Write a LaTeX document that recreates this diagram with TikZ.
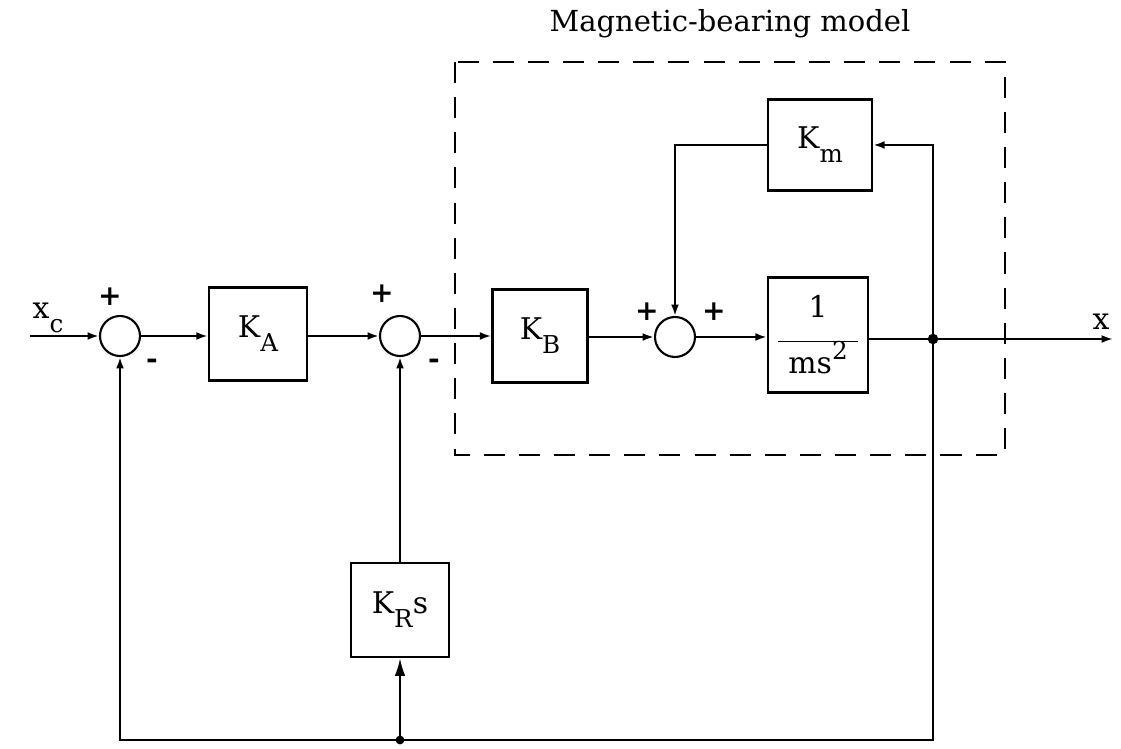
\documentclass[tikz,border=0pt]{standalone}
\usepackage{fontspec}
\setmainfont{DejaVu Serif}
\usepackage{tikz}
\usetikzlibrary{arrows.meta,positioning}

% subscript and superscript letters as the drawing sets them
\newcommand{\lowsub}[1]{\raisebox{-8pt}{\fontsize{14}{16}\selectfont #1}}
\newcommand{\highsup}[1]{\raisebox{8pt}{\fontsize{14}{16}\selectfont #1}}

\begin{document}
\begin{tikzpicture}[
  x=0.02cm, y=-0.02cm, >={Latex[length=6.5pt,width=4.5pt]},
  line width=1.2pt, font=\fontsize{17}{20}\selectfont,
  block/.style={draw, line width=1.4pt, minimum width=1.96cm, minimum height=1.86cm, inner sep=2pt},
  sumnode/.style={draw, circle, line width=1.2pt, minimum size=0.8cm, inner sep=0pt},
  sgn/.style={font=\fontsize{16}{18}\selectfont\bfseries, inner sep=0pt}
]
\useasboundingbox (0,0) rectangle (1121,749);

% forward path
\node[sumnode] (sum1) at (120,336) {};
\node[block] (ka) at (258,334) {K\lowsub{A}};
\node[sumnode] (sum2) at (400,336) {};
\node[block, minimum width=1.9cm] (kb) at (540,336) {K\lowsub{B}};
\node[sumnode] (sum3) at (675,337) {};
\node[block, minimum width=2cm, minimum height=2.3cm, align=center] (plant) at (818,335)
  {1\\[-6pt]\rule{1.6cm}{0.9pt}\\[-2pt]ms\highsup{2}};
\node[block, minimum width=2.08cm, minimum height=1.82cm] (km) at (820,145) {K\lowsub{m}};
\node[block, minimum height=1.88cm] (kr) at (400,610) {K\lowsub{R}s};

% terminals
\coordinate (in) at (30,336);
\coordinate (out) at (1113,339);
\coordinate (tap) at (933,339);
\coordinate (bot) at (400,740);
\node (xc) at (48,318) {x\lowsub{c}};
\node (xo) at (1101,322) {x};

% dashed magnetic-bearing box
\draw[line width=1.3pt, dash pattern=on 12pt off 8pt] (455,62) rectangle (1005,455);
\node[font=\fontsize{16.5}{19}\selectfont] (title) at (730,24) {Magnetic-bearing model};

% signs
\node[sgn] at (110,297) {+};
\node[sgn] at (152,364) {-};
\node[sgn] at (382,294) {+};
\node[sgn] at (434,364) {-};
\node[sgn] at (647,312) {+};
\node[sgn] at (714,312) {+};

% connections
\draw[->] (in) -- (sum1);
\draw[->] (sum1) -- (ka.west |- sum1);
\draw[->] (ka.east |- sum2) -- (sum2);
\draw[->] (sum2) -- (kb.west |- sum2);
\draw[->] (kb.east |- sum3) -- (sum3);
\draw[->] (sum3) -- (plant.west |- sum3);
\draw[->] (plant.east |- tap) -- (out);
\draw[->] (tap) |- (km.east);
\draw[->] (km.west) -| (sum3.north);
\draw[->] (tap) -- (tap |- bot) -| (sum1.south);
\draw[->, >={Latex[length=10pt,width=6pt]}] (bot) -- (kr.south);
\draw[->] (kr.north) -- (sum2.south);
\fill (tap) circle (3pt);
\fill (bot) circle (2.5pt);
\end{tikzpicture}
\end{document}
